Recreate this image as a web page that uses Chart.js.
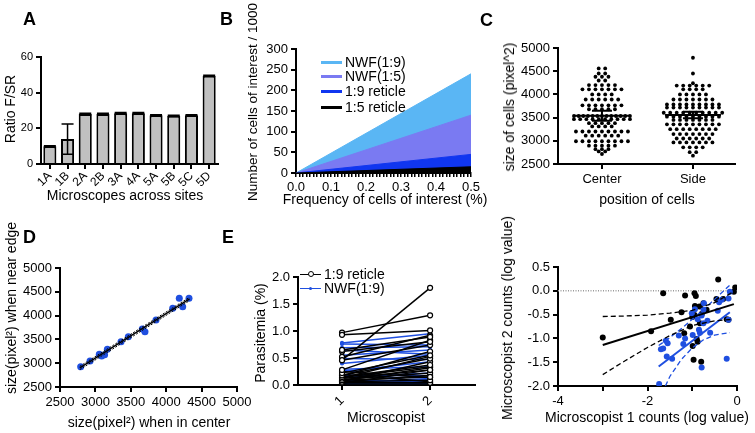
<!DOCTYPE html>
<html>
<head>
<meta charset="utf-8">
<script src="https://cdn.jsdelivr.net/npm/chart.js@4.4.1/dist/chart.umd.min.js"></script>
<style>
body { margin: 0; background: #fff; width: 755px; height: 433px; position: relative; overflow: hidden;
       font-family: "Liberation Sans", Arial, sans-serif; color: #000; }
canvas { position: absolute; }
.tag { position: absolute; font-weight: bold; font-size: 18px; line-height: 18px; }
.li { position: absolute; height: 16px; line-height: 16px; font-size: 14px; white-space: nowrap; }
.li i { display: inline-block; width: 21px; height: 3px; vertical-align: middle; margin-right: 3px; position: relative; top: -1px; }
.li b { position: absolute; top: 50%; border-radius: 50%; }
.xt, .yt { position: absolute; font-size: 14px; line-height: 16px; white-space: nowrap; }
.xt { transform: translate(-50%, -50%); }
.yt { transform: translate(-50%, -50%) rotate(-90deg); }
</style>
</head>
<body>
<canvas id="cA" width="240" height="215" style="left:0;top:0"></canvas>
<canvas id="cB" width="245" height="215" style="left:245px;top:0"></canvas>
<canvas id="cC" width="255" height="215" style="left:500px;top:0"></canvas>
<canvas id="cD" width="255" height="218" style="left:0;top:215px"></canvas>
<canvas id="cE" width="250" height="218" style="left:245px;top:215px"></canvas>
<canvas id="cF" width="255" height="218" style="left:500px;top:215px"></canvas>

<div class="tag" style="left:23px;top:10px">A</div>
<div class="tag" style="left:220px;top:10px">B</div>
<div class="tag" style="left:480px;top:11px">C</div>
<div class="tag" style="left:23px;top:228px">D</div>
<div class="tag" style="left:222px;top:228px">E</div>

<!-- axis titles -->
<div class="xt" style="left:125px;top:195px">Microscopes across sites</div>
<div class="yt" style="left:10px;top:109px">Ratio F/SR</div>
<div class="xt" style="left:385px;top:199px">Frequency of cells of interest (%)</div>
<div class="yt" style="left:253px;top:102px;font-size:13.5px">Number of cells of interest / 1000</div>
<div class="xt" style="left:647px;top:199px">position of cells</div>
<div class="yt" style="left:509px;top:107px">size of cells (pixel^2)</div>
<div class="xt" style="left:149px;top:422px">size(pixel&#178;) when in center</div>
<div class="yt" style="left:11px;top:308px">size(pixel&#178;) when near edge</div>
<div class="xt" style="left:386px;top:417px">Microscopist</div>
<div class="yt" style="left:260px;top:333px">Parasitemia (%)</div>
<div class="xt" style="left:647px;top:417px">Microscopist 1 counts (log value)</div>
<div class="yt" style="left:507px;top:318px">Microscopist 2 counts (log value)</div>

<div class="li" style="left:321px;top:54px"><i style="background:#5ab6f4"></i>NWF(1:9)</div>
<div class="li" style="left:321px;top:68px"><i style="background:#7a7af2"></i>NWF(1:5)</div>
<div class="li" style="left:321px;top:83px"><i style="background:#1036f0"></i>1:9 reticle</div>
<div class="li" style="left:321px;top:99px"><i style="background:#000"></i>1:5 reticle</div>

<div class="li" style="left:300px;top:266px"><i style="background:#000;height:1.5px"></i>1:9 reticle
  <b style="left:8px;margin-top:-3.5px;width:4px;height:4px;border:1.5px solid #000;background:#fff"></b></div>
<div class="li" style="left:300px;top:280px"><i style="background:#1f4fe0;height:1.5px"></i>NWF(1:9)
  <b style="left:9px;margin-top:-1.5px;width:3px;height:3px;background:#1f4fe0"></b></div>

<script>
Chart.defaults.font.family = '"Liberation Sans", Arial, sans-serif';
Chart.defaults.color = '#000';

// A - ratio per microscope
const scopes = ['1A', '1B', '2A', '2B', '3A', '4A', '5A', '5B', '5C', '5D'];
const ratio = [10, 14, 28, 28, 28.5, 28.5, 27.3, 27, 27.3, 49.5];
const ratioErr = [0.3, 8.5, 0.5, 0.4, 0.4, 0.4, 0.3, 0.3, 0.3, 0.3];

// B - cells of interest vs frequency
const freq = [0, 0.5];
const nwf19 = [0, 240];
const nwf15 = [0, 140];
const ret19 = [0, 45];
const ret15 = [0, 15];

// C - cell sizes (pixel^2)
const centerSizes = [4560,4560, 4450,4450, 4380,4380,4380, 4300,4300, 4200,4200,4200,4200,4200,
  4110,4110,4110,4110,4110,4110,4110, 4000,4000,4000,4000, 3890,3890,3890,3890,3890,3890,
  3765,3765,3765,3765,3765,3765,3765, 3680,3680,3680,3680,3680,
  3535,3535,3535,3535,3535,3535,3535,3535,3535,3535,3535,3535,3535,
  3465,3465,3465,3465,3465,3465,3465,3465,3465,3465, 3380,3380,3380,3380,3380, 3310,3310,3310,3310,
  3200,3200,3200,3200,3200,3200,3200,3200,3200, 3110,3110,3110,3110,3110,3110,
  2990,2990,2990,2990,2990,2990,2990,2990,2990, 2895,2895,2895,2895,2895, 2820,2820,2820, 2770,2770, 2715];
const sideSizes = [4790, 4450, 4240, 4190,4190,4190,4190,4190,4190, 4110,4110,4110,4110,
  4000,4000,4000,4000,4000, 3890,3890,3890,3890,3890,3890,3890,
  3785,3785,3785,3785,3785,3785,3785,3785,3785, 3715,3715,3715,3715,3715,3715,3715,3715,3715,
  3605,3605,3605,3605,3605,3605,3605,3605,3605,3605, 3520,3520,3520,3520,3520,3520,3520,3520,3520,
  3450,3450,3450,3450,3450,3450,3450, 3355,3355,3355,3355,3355,3355,3355,3355,3355,
  3250,3250,3250,3250,3250,3250,3250,3250, 3145,3145,3145,3145,3145,3145,3145,
  3050,3050,3050,3050,3050,3050, 2965,2965,2965,2965,2965,2965,2965, 2860,2860,2860,2860, 2755,2755, 2680];
const groups = ['Center', 'Side'];
const groupMean = [3540, 3555];
const groupSem = [110, 70];

// D - center vs edge
const sizeCenter = [2792, 2924, 3055, 3089, 3130, 3169, 3362, 3465, 3662, 3700, 3856, 4092, 4185, 4233, 4322];
const sizeEdge = [2926, 3046, 3187, 3151, 3180, 3292, 3452, 3557, 3718, 3662, 3908, 4153, 4363, 4187, 4363];
const fitDX = [2780, 4330];
const fitDY = [2900, 4350];
const fitDUp = [2935, 4385];
const fitDLo = [2865, 4315];

// E - parasitemia per microscopist
const reticle1 = [0.93, 0.97, 0.46, 0.65, 0.62, 0.52, 0.46, 0.28, 0.22, 0.18, 0.15, 0.12, 0.09, 0.06, 0.04,
  0.17, 0.14, 0.10, 0.07, 0.20, 0.25, 0.03, 0.06, 0.02, 0.13, 0.08];
const reticle2 = [1.01, 1.29, 1.80, 0.89, 0.80, 0.92, 0.74, 0.83, 0.55, 0.49, 0.37, 0.28, 0.15, 0.09, 0.04,
  0.62, 0.34, 0.22, 0.43, 0.06, 0.14, 0.28, 0.18, 0.02, 0.53, 0.32];
const nwf1 = [0.78, 0.76, 0.69, 0.65, 0.55, 0.49, 0.40, 0.29, 0.25, 0.18, 0.14, 0.09, 0.06, 0.03, 0.04, 0.28];
const nwf2 = [0.95, 0.74, 0.71, 0.57, 0.65, 0.47, 0.55, 0.34, 0.43, 0.17, 0.22, 0.06, 0.10, 0.03, 0.12, 0.03];

// F - log counts
const blackX = [-3.0, -1.92, -1.65, -1.48, -1.24, -1.18, -1.16, -1.05, -0.99, -0.97, -0.95, -0.92, -0.94, -0.95,
  -0.90, -0.88, -0.84, -0.80, -0.79, -0.75, -0.83, -0.42, -0.46, -0.31, -0.23, -0.19, -0.04, -0.07, -0.68, -1.0];
const blackY = [-0.98, -0.85, -0.05, -0.61, -0.45, -0.89, -0.10, -0.75, -1.16, -1.45, -0.05, -0.11, -0.32, -0.51,
  -1.01, -1.07, -0.33, -1.49, -0.49, -0.26, -0.68, 0.24, -0.17, -0.17, -0.60, -0.61, 0.07, -0.02, -0.40, -0.55];
const blueX = [-1.74, -1.70, -1.65, -1.59, -1.55, -1.57, -1.45, -1.30, -1.20, -1.16, -1.01, -0.99, -0.94, -0.88,
  -0.85, -0.83, -0.79, -0.75, -0.74, -0.75, -0.66, -0.60, -0.43, -0.40, -0.34, -0.23, -0.19, -0.19, -0.16, -0.79];
const blueY = [-1.96, -1.23, -1.21, -1.05, -1.10, -1.38, -1.43, -0.94, -1.12, -1.00, -0.47, -0.93, -0.39, -0.60,
  -0.82, -0.88, -1.61, -0.68, -0.26, -0.40, -0.63, -0.88, -0.42, -0.24, -0.19, -1.43, -0.16, -0.61, -0.02, -0.52];
const fitBlackX = [-3.0, -0.07];
const fitBlackY = [-1.14, -0.28];
const ciBlackX = [-3.0, -2.5, -2.0, -1.5, -1.0, -0.5, -0.1];
const ciBlackUp = [-0.54, -0.53, -0.51, -0.47, -0.41, -0.25, -0.03];
const ciBlackLo = [-1.76, -1.47, -1.19, -0.94, -0.73, -0.63, -0.60];
const fitBlueX = [-1.75, -0.16];
const fitBlueY = [-1.59, -0.45];
const ciBlueUpX = [-1.75, -1.5, -1.25, -1.0, -0.75, -0.5, -0.16];
const ciBlueUp = [-1.15, -0.98, -0.80, -0.60, -0.40, -0.18, 0.12];
const ciBlueLoX = [-1.6, -1.5, -1.25, -1.0, -0.75, -0.5, -0.16];
const ciBlueLo = [-2.0, -1.80, -1.45, -1.20, -1.03, -0.93, -0.88];

const BLUE = '#1f4fe0';
const pts = (xs, ys) => xs.map((x, i) => ({ x: x, y: ys[i] }));
const plain = v => String(v);

// axis in GraphPad style: black line, outside ticks, no grid
function axis(extra, size, fit) {
    const a = {
        border: { display: true, color: '#000', width: 2 },
        grid: { display: true, drawOnChartArea: false, drawTicks: true, tickLength: 5, color: '#000', lineWidth: 2, offset: false },
        ticks: { color: '#000', font: { size: size || 13 }, padding: 3, autoSkip: false, maxRotation: 0, callback: plain },
        afterFit: fit
    };
    for (const k in extra) {
        if (k === 'ticks' || k === 'grid') Object.assign(a[k], extra[k]);
        else a[k] = extra[k];
    }
    return a;
}
const common = (pad) => ({
    responsive: false, animation: false,
    layout: { padding: pad },
    plugins: { legend: { display: false }, tooltip: { enabled: false } }
});

// Panel A
const errorBars = {
    id: 'errorBars',
    afterDatasetsDraw(chart) {
        const { ctx, scales: { x, y } } = chart;
        ctx.save();
        ctx.strokeStyle = '#000';
        ctx.lineWidth = 1.5;
        ratio.forEach((v, i) => {
            const cx = x.getPixelForValue(i);
            const top = y.getPixelForValue(v + ratioErr[i]);
            const bot = y.getPixelForValue(v - ratioErr[i]);
            ctx.beginPath();
            ctx.moveTo(cx, top); ctx.lineTo(cx, bot);
            ctx.moveTo(cx - 6, top); ctx.lineTo(cx + 6, top);
            ctx.moveTo(cx - 6, bot); ctx.lineTo(cx + 6, bot);
            ctx.stroke();
        });
        ctx.restore();
    }
};
new Chart(document.getElementById('cA'), {
    type: 'bar',
    data: { labels: scopes, datasets: [{ data: ratio, backgroundColor: '#c0c0c0', borderColor: '#000', borderWidth: 2,
        categoryPercentage: 1, barPercentage: 0.74 }] },
    options: Object.assign(common({ left: 0, top: 57, right: 22, bottom: 0 }), {
        scales: {
            x: axis({ ticks: { minRotation: 45, maxRotation: 45, font: { size: 12 }, padding: 0, callback: (v, i) => scopes[i] } }, 12, s => { s.height = 51; }),
            y: axis({ min: 0, max: 60, ticks: { stepSize: 20, font: { size: 11 } } }, 11, s => { s.width = 41; })
        }
    }),
    plugins: [errorBars]
});

// Panel B
const area = (ys, color) => ({ data: pts(freq, ys), borderColor: color, backgroundColor: color, borderWidth: 1,
    fill: 'origin', pointRadius: 0, tension: 0 });
new Chart(document.getElementById('cB'), {
    type: 'line',
    data: { datasets: [area(ret15, '#000'), area(ret19, '#1036f0'), area(nwf15, '#7a7af2'), area(nwf19, '#5ab6f4')] },
    options: Object.assign(common({ left: 0, top: 49, right: 19, bottom: 0 }), {
        scales: {
            x: axis({ type: 'linear', min: 0, max: 0.5, grid: { tickLength: 4, lineWidth: 1.5 },
                ticks: { stepSize: 0.01, callback: v => (Math.round(v * 100) % 10 === 0 ? v.toFixed(1) : '') } }, 13, s => { s.height = 42; }),
            y: axis({ min: 0, max: 300, ticks: { stepSize: 50 } }, 13, s => { s.width = 51; })
        }
    })
});

// Panel C
function swarm(values, center, stepPx, maxPx) {
    const counts = {}, seen = {};
    values.forEach(v => { counts[v] = (counts[v] || 0) + 1; });
    return values.map(v => {
        const n = counts[v];
        const i = seen[v] = (seen[v] === undefined ? 0 : seen[v] + 1);
        const step = n > 1 ? Math.min(stepPx, maxPx / (n - 1)) : 0;
        return { x: center + (i - (n - 1) / 2) * step / 91, y: v };
    });
}
const meanSem = {
    id: 'meanSem',
    afterDatasetsDraw(chart) {
        const { ctx, scales: { x, y } } = chart;
        ctx.save();
        ctx.strokeStyle = '#000';
        ctx.lineWidth = 2;
        groupMean.forEach((m, i) => {
            const cx = x.getPixelForValue(i + 1);
            const my = y.getPixelForValue(m);
            const hi = y.getPixelForValue(m + groupSem[i]);
            const lo = y.getPixelForValue(m - groupSem[i]);
            ctx.beginPath();
            ctx.moveTo(cx - 28, my); ctx.lineTo(cx + 28, my);
            ctx.moveTo(cx, hi); ctx.lineTo(cx, lo);
            ctx.moveTo(cx - 10, hi); ctx.lineTo(cx + 10, hi);
            ctx.moveTo(cx - 10, lo); ctx.lineTo(cx + 10, lo);
            ctx.stroke();
        });
        ctx.restore();
    }
};
new Chart(document.getElementById('cC'), {
    type: 'scatter',
    data: { datasets: [
        { data: swarm(centerSizes, 1, 6.5, 56), pointRadius: 1.9, backgroundColor: '#000', borderWidth: 0 },
        { data: swarm(sideSizes, 2, 6.5, 60), pointRadius: 1.9, backgroundColor: '#000', borderWidth: 0 }
    ] },
    options: Object.assign(common({ left: 0, top: 48, right: 20, bottom: 0 }), {
        scales: {
            x: axis({ type: 'linear', min: 0.517, max: 2.462,
                afterBuildTicks: s => { s.ticks = [{ value: 1 }, { value: 2 }]; },
                ticks: { callback: v => groups[Math.round(v) - 1] } }, 13, s => { s.height = 51; }),
            y: axis({ min: 2500, max: 5000, ticks: { stepSize: 500 } }, 13, s => { s.width = 58; })
        }
    }),
    plugins: [meanSem]
});

// Panel D
const lineDs = (data, color, width, dash) => ({ data: data, showLine: true, borderColor: color, borderWidth: width,
    borderDash: dash || [], pointRadius: 0, fill: false });
new Chart(document.getElementById('cD'), {
    type: 'scatter',
    data: { datasets: [
        lineDs(pts(fitDX, fitDUp), '#000', 1, [2, 1.5]),
        lineDs(pts(fitDX, fitDLo), '#000', 1, [2, 1.5]),
        lineDs(pts(fitDX, fitDY), '#000', 1.5),
        { data: pts(sizeCenter, sizeEdge), pointRadius: 3.5, backgroundColor: BLUE, borderWidth: 0 }
    ] },
    options: Object.assign(common({ left: 0, top: 53, right: 18, bottom: 0 }), {
        scales: {
            x: axis({ min: 2500, max: 5000, ticks: { stepSize: 500 } }, 13, s => { s.height = 46; }),
            y: axis({ min: 2500, max: 5000, ticks: { stepSize: 500 } }, 13, s => { s.width = 60; })
        }
    })
});

// Panel E
const pairs = (a, b, color, r, fillCol) => a.map((v, i) => ({
    data: [{ x: 1, y: v }, { x: 2, y: b[i] }], showLine: true, borderColor: color, borderWidth: 1.5,
    pointRadius: r, pointBackgroundColor: fillCol, pointBorderColor: color, pointBorderWidth: 1.2
}));
new Chart(document.getElementById('cE'), {
    type: 'scatter',
    data: { datasets: pairs(reticle1, reticle2, '#000', 2.5, '#fff').concat(pairs(nwf1, nwf2, BLUE, 1.5, BLUE)) },
    options: Object.assign(common({ left: 0, top: 62, right: 20, bottom: 0 }), {
        scales: {
            x: axis({ type: 'linear', min: 0.5, max: 2.51,
                afterBuildTicks: s => { s.ticks = [{ value: 1 }, { value: 2 }]; },
                ticks: { minRotation: 45, maxRotation: 45 } }, 13, s => { s.height = 48; }),
            y: axis({ min: 0, max: 2, ticks: { stepSize: 0.5, callback: v => v.toFixed(1) } }, 13, s => { s.width = 53; })
        }
    })
});

// Panel F
new Chart(document.getElementById('cF'), {
    type: 'scatter',
    data: { datasets: [
        lineDs(pts(fitBlackX, fitBlackY), '#000', 2),
        lineDs(pts(ciBlackX, ciBlackUp), '#000', 1.3, [5, 3]),
        lineDs(pts(ciBlackX, ciBlackLo), '#000', 1.3, [5, 3]),
        lineDs(pts(fitBlueX, fitBlueY), BLUE, 2),
        lineDs(pts(ciBlueUpX, ciBlueUp), BLUE, 1.3, [5, 3]),
        lineDs(pts(ciBlueLoX, ciBlueLo), BLUE, 1.3, [5, 3]),
        { data: pts(blueX, blueY), pointRadius: 3, backgroundColor: BLUE, borderWidth: 0 },
        { data: pts(blackX, blackY), pointRadius: 3, backgroundColor: '#000', borderWidth: 0 },
        lineDs([{ x: -4, y: 0 }, { x: 0, y: 0 }], '#9a9a9a', 1.5, [1, 1.5])
    ] },
    options: Object.assign(common({ left: 0, top: 52, right: 18, bottom: 0 }), {
        scales: {
            x: axis({ min: -4, max: 0, ticks: { stepSize: 1, callback: v => (Math.round(v) % 2 === 0 ? String(Math.round(v)) : '') } }, 13, s => { s.height = 47; }),
            y: axis({ min: -2, max: 0.5, ticks: { stepSize: 0.5, callback: v => v.toFixed(1) } }, 13, s => { s.width = 58; })
        }
    })
});
</script>
</body>
</html>
